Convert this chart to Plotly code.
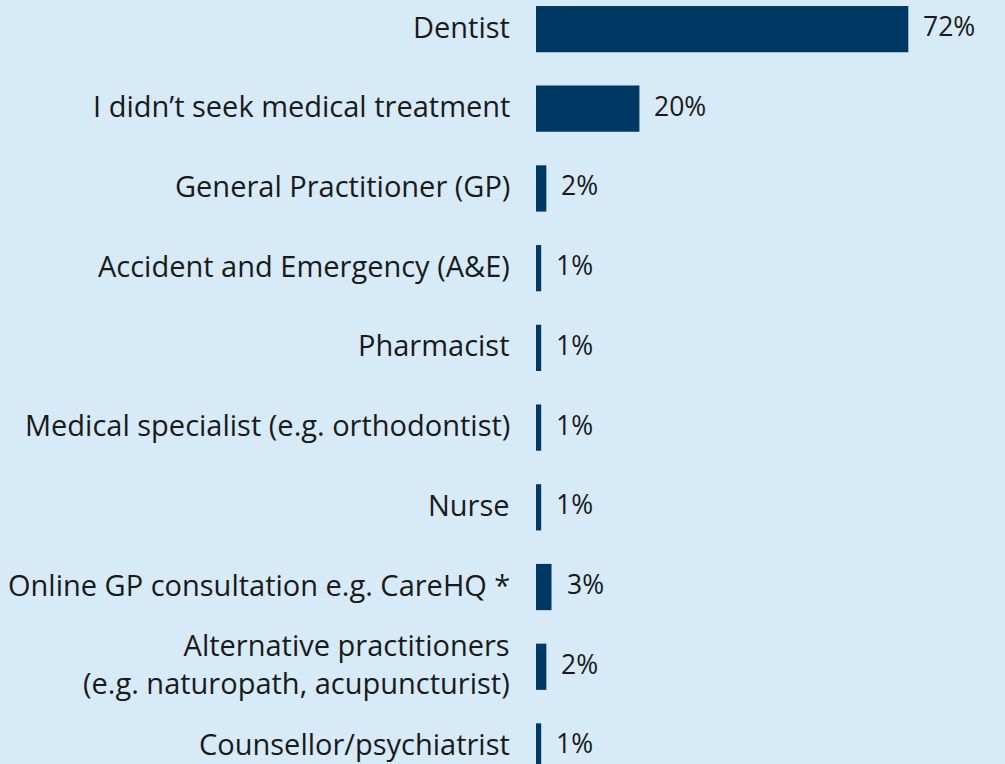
import plotly.graph_objects as go

categories = [
    "Dentist",
    "I didn’t seek medical treatment",
    "General Practitioner (GP)",
    "Accident and Emergency (A&E)",
    "Pharmacist",
    "Medical specialist (e.g. orthodontist)",
    "Nurse",
    "Online GP consultation e.g. CareHQ *",
    "Alternative practitioners<br>(e.g. naturopath, acupuncturist)",
    "Counsellor/psychiatrist",
]
values = [72, 20, 2, 1, 1, 1, 1, 3, 2, 1]
value_labels = [f"{v}%" for v in values]

BG = "#d6eaf8"
BAR = "#003864"
TXT = "#1a1a1a"
FONT = "Open Sans"

ypos = list(range(len(categories)))

fig = go.Figure()
fig.add_trace(go.Bar(
    x=values, y=ypos, orientation="h",
    marker=dict(color=BAR, line=dict(width=0)),
    width=0.58, hoverinfo="skip",
))

for y, lab in zip(ypos, categories):
    fig.add_annotation(x=0, y=y, xref="x", yref="y", text=lab, showarrow=False,
                       xanchor="right", yanchor="middle", align="right",
                       xshift=-24, yshift=3,
                       font=dict(family=FONT, size=29, color=TXT))
for y, v, t in zip(ypos, values, value_labels):
    fig.add_annotation(x=v, y=y, xref="x", yref="y", text=t, showarrow=False,
                       xanchor="left", yanchor="middle", xshift=13, yshift=3,
                       font=dict(family=FONT, size=26.5, color=TXT))

fig.update_layout(
    width=1005, height=764,
    margin=dict(l=536, r=0, t=0, b=0),
    paper_bgcolor=BG, plot_bgcolor=BG,
    showlegend=False,
    xaxis=dict(range=[0, 90.7], visible=False, fixedrange=True),
    yaxis=dict(range=[9.22, -0.364], visible=False, fixedrange=True),
)

fig.write_html("out.html", config={"displayModeBar": False},
               post_script="document.body.style.margin='0';document.body.style.background='%s';" % BG)
